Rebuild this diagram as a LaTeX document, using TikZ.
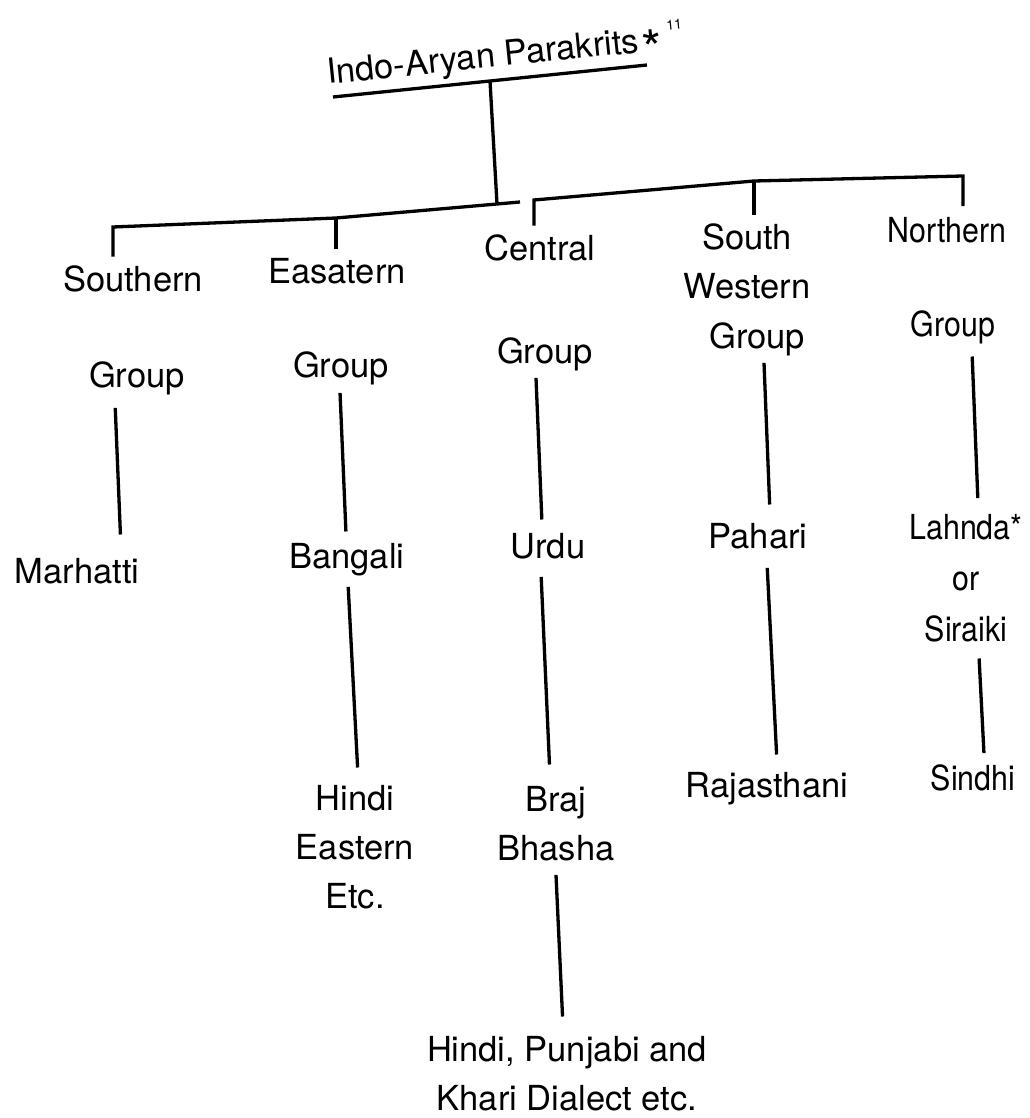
\documentclass[tikz,border=0pt]{standalone}
\usepackage{fontspec}
\setmainfont{TeX Gyre Heros}
\newfontfamily\narrowfont[FakeStretch=0.88]{TeX Gyre Heros}
\usetikzlibrary{calc}
\newcommand\stk[1]{\begin{tabular}[t]{@{}c@{}}#1\end{tabular}}
\tikzset{
  lang/.style={anchor=base, inner sep=0pt, font=\fontsize{34.5}{49}\selectfont},
  ncol/.style={anchor=base, inner sep=0pt, font=\narrowfont\fontsize{34.5}{51}\selectfont},
  link/.style={line width=3.3pt}
}
\begin{document}
\begin{tikzpicture}[x=1pt,y=-1pt]
        \useasboundingbox (0,0) rectangle (1029,1118);

        \node[lang,anchor=base west,rotate=5.8] (root) at (328,84) {Indo-Aryan Parakrits\hspace{3pt}\raisebox{-17pt}{\fontsize{52}{52}\selectfont*}\hspace{6pt}\raisebox{19pt}{\fontsize{14}{14}\selectfont 11}};
        \coordinate (ulL) at (333,97);
        \coordinate (ulR) at (647,65);
        \coordinate (jn) at (497,204);

        \coordinate (tS) at (113,227);
        \coordinate (tE) at (336,218);
        \coordinate (gap) at (520,202);
        \coordinate (tC) at (534,200);
        \coordinate (tW) at (754,181);
        \coordinate (tN) at (963,176);

        \node[lang] (south) at (133,291) {\stk{Southern}};
        \node[lang] (east) at (337,283) {\stk{Easatern}};
        \node[lang] (central) at (540,260) {\stk{Central}};
        \node[lang] (sw) at (747,249) {\stk{South\\Western}};
        \node[ncol] (northern) at (947,242) {\stk{Northern}};

        \node[lang] (sgrp) at (137,387) {\stk{Group}};
        \node[lang] (egrp) at (341,377) {\stk{Group}};
        \node[lang] (cgrp) at (545,363) {\stk{Group}};
        \node[lang] (wgrp) at (757,348) {\stk{Group}};
        \node[ncol] (ngrp) at (953,336) {\stk{Group}};

        \node[lang] (marh) at (77,583) {\stk{Marhatti}};
        \node[lang] (bang) at (347,568) {\stk{Bangali}};
        \node[lang] (urdu) at (548,558) {\stk{Urdu}};
        \node[lang] (pah) at (758,548) {\stk{Pahari}};
        \node[ncol] (lah) at (966,539) {\stk{Lahnda*\\or\\Siraiki}};

        \node[lang] (hindiE) at (355,810) {\stk{Hindi\\Eastern\\Etc.}};
        \node[lang] (braj) at (556,811) {\stk{Braj\\Bhasha}};
        \node[lang] (raj) at (767,797) {\stk{Rajasthani}};
        \node[ncol] (sindhi) at (973,790) {\stk{Sindhi}};
        \node[lang] (hpk) at (567,1061) {\stk{Hindi, Punjabi and\\Khari Dialect etc.}};

        \draw[link] (ulL) -- (ulR);
        \draw[link] ($(ulL)!0.5!(ulR)$) -- (jn);
        \draw[link] (tS |- south.north) -- (tS) -- (tE) -- (gap);
        \draw[link] (tC |- central.north) -- (tC) -- (tW) -- (tN) -- (tN |- northern.north);
        \draw[link] (tE) -- (tE |- east.north);
        \draw[link] (tW) -- (tW |- sw.north);

        \draw[link,shorten <=6pt,shorten >=14pt] ([xshift=-22pt]sgrp.south) -- ([xshift=44pt]marh.north);
        \draw[link,shorten <=1pt,shorten >=2pt] ([xshift=-1pt]egrp.south) -- ([xshift=-1pt]bang.north);
        \draw[link,shorten >=4pt] ([xshift=-9pt]cgrp.south) -- ([xshift=-6pt]urdu.north);
        \draw[link,shorten >=9pt] ([xshift=7pt]wgrp.south) -- ([xshift=12pt]pah.north);
        \draw[link,shorten <=5pt,shorten >=5pt] ([xshift=19pt]ngrp.south) -- ([xshift=12pt]lah.north);
        \draw[link,shorten <=4pt,shorten >=8pt] ([xshift=1pt]bang.south) -- ([xshift=3pt]hindiE.north);
        \draw[link,shorten <=4pt,shorten >=12pt] ([xshift=-7pt]urdu.south) -- ([xshift=-6pt]braj.north);
        \draw[link,shorten <=5pt,shorten >=8pt] ([xshift=9pt]pah.south) -- ([xshift=10pt]raj.north);
        \draw[link,shorten <=2pt,shorten >=1pt] ([xshift=13pt]lah.south) -- ([xshift=11pt]sindhi.north);
        \draw[link,shorten >=10pt] (braj.south) -- ([xshift=-4pt]hpk.north);
\end{tikzpicture}
\end{document}
